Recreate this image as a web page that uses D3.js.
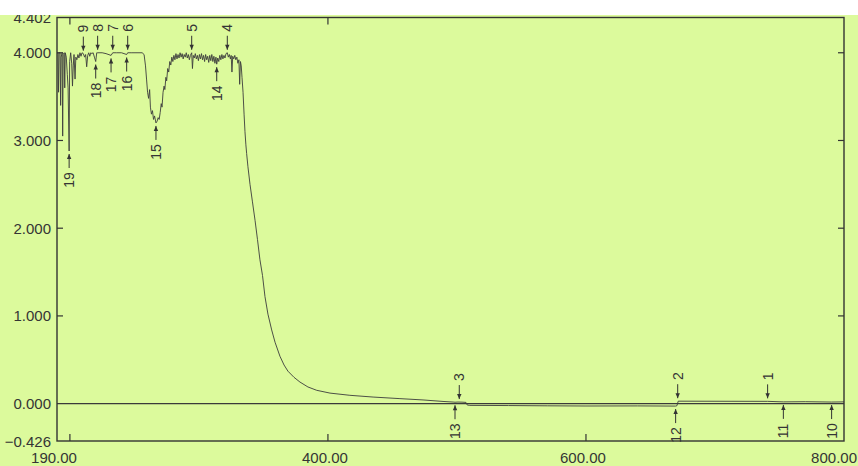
<!DOCTYPE html>
<html>
<head>
<meta charset="utf-8">
<script src="https://cdn.jsdelivr.net/npm/d3@7"></script>
<style>
  html, body { margin: 0; padding: 0; background: #ffffff; }
  svg { display: block; }
  text { font-family: "Liberation Sans", Arial, sans-serif; fill: #353535; }
</style>
</head>
<body>
<svg id="chart" width="858" height="466"></svg>
<script>
// UV-Vis absorbance spectrum (wavelength in nm, absorbance in Abs)
const wavelength = [
  190.0, 190.8, 191.2, 191.6, 192.4, 192.8, 193.2, 194.0, 194.4, 194.8,
  195.6, 196.0, 196.4, 197.2, 198.0, 198.6, 199.4, 199.8, 200.6, 201.4,
  202.0, 202.6, 203.2, 204.0, 204.6, 205.4, 206.2, 207.0, 207.8, 208.6,
  209.4, 210.4, 211.4, 212.2, 213.0, 213.8, 214.6, 215.4, 216.2, 217.0,
  218.0, 219.0, 220.0, 220.8, 221.5, 225.0, 228.0, 231.9, 233.2, 236.0,
  240.0, 244.0, 244.8, 248.0, 252.0, 256.0, 257.5, 258.6, 259.4, 260.2,
  261.0, 261.8, 262.4, 263.2, 264.0, 264.8, 265.6, 266.7, 267.6, 268.4,
  269.2, 270.0, 270.8, 271.4, 272.2, 273.0, 273.6, 274.4, 275.0, 275.8,
  276.6, 277.4, 278.2, 279.0, 279.8, 280.6, 281.4, 282.2, 283.0, 283.8,
  284.6, 285.4, 286.2, 287.0, 287.8, 288.6, 289.4, 290.2, 291.0, 291.8,
  292.6, 293.4, 294.4, 295.0, 295.6, 296.4, 297.2, 298.0, 298.8, 299.6,
  300.4, 301.2, 302.0, 302.8, 303.6, 304.4, 305.2, 306.0, 306.8, 307.6,
  308.4, 309.2, 310.0, 310.8, 311.6, 312.4, 313.2, 313.8, 314.6, 315.4,
  316.2, 317.0, 317.8, 318.6, 319.4, 320.2, 321.0, 322.0, 322.8, 323.6,
  324.4, 325.0, 325.6, 326.2, 327.0, 327.8, 328.6, 329.4, 330.2, 331.0,
  331.6, 332.2, 332.8, 333.4, 334.2, 335.0, 335.7, 336.4, 337.0, 338.0,
  339.6, 341.5, 343.5, 345.4, 347.3, 349.3, 351.2, 353.5, 356.4, 359.0,
  362.8, 366.0, 369.0, 373.7, 378.3, 384.5, 391.3, 401.6, 417.0, 435.0,
  455.8, 473.7, 489.2, 497.0, 498.5, 500.8, 503.9, 507.0, 508.0, 510.0,
  540.0, 570.0, 600.0, 640.0, 669.5, 670.5, 671.5, 700.0, 740.8, 753.0,
  770.0, 790.4, 800.0
];
const absorbance = [
  4.00, 4.00, 3.55, 4.00, 4.00, 3.40, 3.95, 4.00, 3.05, 3.98,
  4.00, 3.60, 4.00, 3.95, 3.75, 3.60, 2.88, 3.90, 4.00, 3.88,
  3.62, 3.85, 3.98, 3.70, 3.95, 3.92, 3.98, 3.94, 4.00, 3.96,
  4.00, 3.99, 3.95, 3.98, 3.84, 3.97, 4.00, 3.96, 4.00, 3.99,
  4.00, 3.95, 3.90, 4.00, 4.00, 4.00, 3.99, 3.97, 4.00, 4.00,
  4.00, 3.98, 4.00, 4.00, 4.00, 4.00, 3.98, 3.85, 3.70, 3.55,
  3.48, 3.58, 3.38, 3.30, 3.34, 3.24, 3.28, 3.20, 3.22, 3.26,
  3.24, 3.32, 3.42, 3.38, 3.55, 3.62, 3.58, 3.72, 3.68, 3.82,
  3.78, 3.90, 3.86, 3.95, 3.90, 3.97, 3.92, 3.99, 3.93, 3.98,
  3.94, 4.00, 3.95, 3.99, 3.93, 3.98, 3.95, 4.00, 3.94, 3.98,
  3.92, 3.97, 4.00, 3.82, 3.97, 3.94, 3.99, 3.93, 3.97, 3.91,
  3.98, 3.93, 3.99, 3.92, 3.97, 3.90, 3.98, 3.92, 3.96, 3.89,
  3.97, 3.91, 3.98, 3.90, 3.96, 3.88, 3.95, 3.87, 3.94, 3.90,
  3.97, 3.92, 3.98, 3.93, 3.97, 3.94, 3.99, 4.00, 3.95, 3.98,
  3.93, 3.97, 3.78, 3.96, 3.93, 3.97, 3.92, 3.95, 3.88, 3.92,
  3.64, 3.90, 3.85, 3.72, 3.55, 3.30, 3.10, 2.95, 2.85, 2.70,
  2.50, 2.30, 2.09, 1.87, 1.64, 1.46, 1.22, 1.02, 0.84, 0.70,
  0.54, 0.44, 0.37, 0.30, 0.246, 0.19, 0.152, 0.12, 0.095, 0.075,
  0.057, 0.042, 0.025, 0.018, 0.016, 0.018, 0.017, 0.014, -0.016, -0.020,
  -0.022, -0.025, -0.027, -0.026, -0.028, -0.024, 0.028, 0.027, 0.026, 0.020,
  0.022, 0.018, 0.020
];

// Picked peaks (labels above) and valleys (labels below)
const peakNo  = [1, 2, 3, 4, 5, 6, 7, 8, 9];
const peakNm  = [740.8, 671.1, 501.8, 322.0, 294.4, 244.8, 233.2, 221.5, 210.4];
const peakAbs = [0.026, 0.028, 0.018, 4.00, 4.00, 4.00, 4.00, 4.00, 3.99];

const valleyNo  = [10, 11, 12, 13, 14, 15, 16, 17, 18, 19];
const valleyNm  = [790.4, 753.0, 669.5, 498.5, 313.8, 266.7, 244.0, 231.9, 220.0, 199.4];
const valleyAbs = [0.018, 0.020, -0.028, 0.016, 3.87, 3.20, 3.98, 3.97, 3.90, 2.88];

// Axis labels and tick marks
const xLabels = [190, 400, 600, 800];
const xTicks  = [200, 400, 600];
const yLabels = [4.402, 4.000, 3.000, 2.000, 1.000, 0.000, -0.426];
const yTicks  = [1, 2, 3, 4];
const baselineAbs = 0;

const svg = d3.select("#chart");
const W = 858, H = 466;
const frame = { left: 57, right: 844, top: 17.5, bottom: 441 };

const x = d3.scaleLinear().domain([190, 800]).range([frame.left, frame.right]);
const y = d3.scaleLinear().domain([-0.426, 4.402]).range([frame.bottom, frame.top]);

const ink = "#333333";

// paper background
svg.append("rect").attr("x", 0).attr("y", 0).attr("width", W).attr("height", H)
  .attr("fill", "#dcfa9c");

// zero reference line
svg.append("line")
  .attr("x1", x(190)).attr("x2", x(800))
  .attr("y1", y(baselineAbs)).attr("y2", y(baselineAbs))
  .attr("stroke", "#3a3a3a").attr("stroke-width", 1.3);

// spectrum trace
const pts = wavelength.map((w, i) => [w, absorbance[i]]);
svg.append("path")
  .datum(pts)
  .attr("fill", "none")
  .attr("stroke", "#3c3c3c")
  .attr("stroke-width", 0.9)
  .attr("d", d3.line().x(d => x(d[0])).y(d => y(d[1])));

// plot frame
svg.append("rect")
  .attr("x", frame.left).attr("y", frame.top)
  .attr("width", frame.right - frame.left).attr("height", frame.bottom - frame.top)
  .attr("fill", "none").attr("stroke", ink).attr("stroke-width", 1.4);

// inward tick marks
const tickLen = 7;
const tg = svg.append("g").attr("stroke", ink).attr("stroke-width", 1.2);
xTicks.forEach(v => {
  tg.append("line").attr("x1", x(v)).attr("x2", x(v))
    .attr("y1", frame.bottom).attr("y2", frame.bottom - tickLen);
});
[200, 400].forEach(v => {
  tg.append("line").attr("x1", x(v)).attr("x2", x(v))
    .attr("y1", frame.top).attr("y2", frame.top + tickLen);
});
yTicks.forEach(v => {
  tg.append("line").attr("x1", frame.left).attr("x2", frame.left + 6)
    .attr("y1", y(v)).attr("y2", y(v));
  tg.append("line").attr("x1", frame.right).attr("x2", frame.right - 6)
    .attr("y1", y(v)).attr("y2", y(v));
});

// axis labels
svg.append("g").selectAll("text").data(yLabels).join("text")
  .attr("x", 51).attr("y", d => y(d))
  .attr("text-anchor", "end").attr("dominant-baseline", "central")
  .attr("font-size", 15)
  .text(d => d3.format(".3f")(d));

svg.append("g").selectAll("text").data(xLabels).join("text")
  .attr("x", d => x(d) - 3).attr("y", 457)
  .attr("text-anchor", "middle").attr("dominant-baseline", "central")
  .attr("font-size", 15)
  .text(d => d3.format(".2f")(d))
  .each(function () {
    // keep the last label inside the sheet
    const b = this.getBBox();
    if (b.x + b.width > W - 1) {
      this.setAttribute("x", +this.getAttribute("x") - (b.x + b.width - (W - 1)));
    }
  });

// arrow marker with rotated number
function marker(g, nm, abs, no, above) {
  const px = x(nm), py = y(abs);
  const dir = above ? -1 : 1;
  const tip = py + dir * 3;
  const tail = tip + dir * 14;
  g.append("line").attr("x1", px).attr("x2", px).attr("y1", tip).attr("y2", tail)
    .attr("stroke", ink).attr("stroke-width", 1);
  g.append("path")
    .attr("d", `M${px},${tip} L${px - 2.2},${tip + dir * 5} L${px + 2.2},${tip + dir * 5} Z`)
    .attr("fill", ink);
  const len = String(no).length * 8;
  const cy = tail + dir * (4 + len / 2);
  g.append("text")
    .attr("transform", `translate(${px},${cy}) rotate(-90)`)
    .attr("text-anchor", "middle").attr("dominant-baseline", "central")
    .attr("font-size", 14)
    .text(no);
}

const mg = svg.append("g");
peakNo.forEach((n, i) => marker(mg, peakNm[i], peakAbs[i], n, true));
valleyNo.forEach((n, i) => marker(mg, valleyNm[i], valleyAbs[i], n, false));

// blank strip across the top edge of the sheet
svg.append("rect").attr("x", 0).attr("y", 0).attr("width", W).attr("height", 15)
  .attr("fill", "#ffffff");
</script>
</body>
</html>
